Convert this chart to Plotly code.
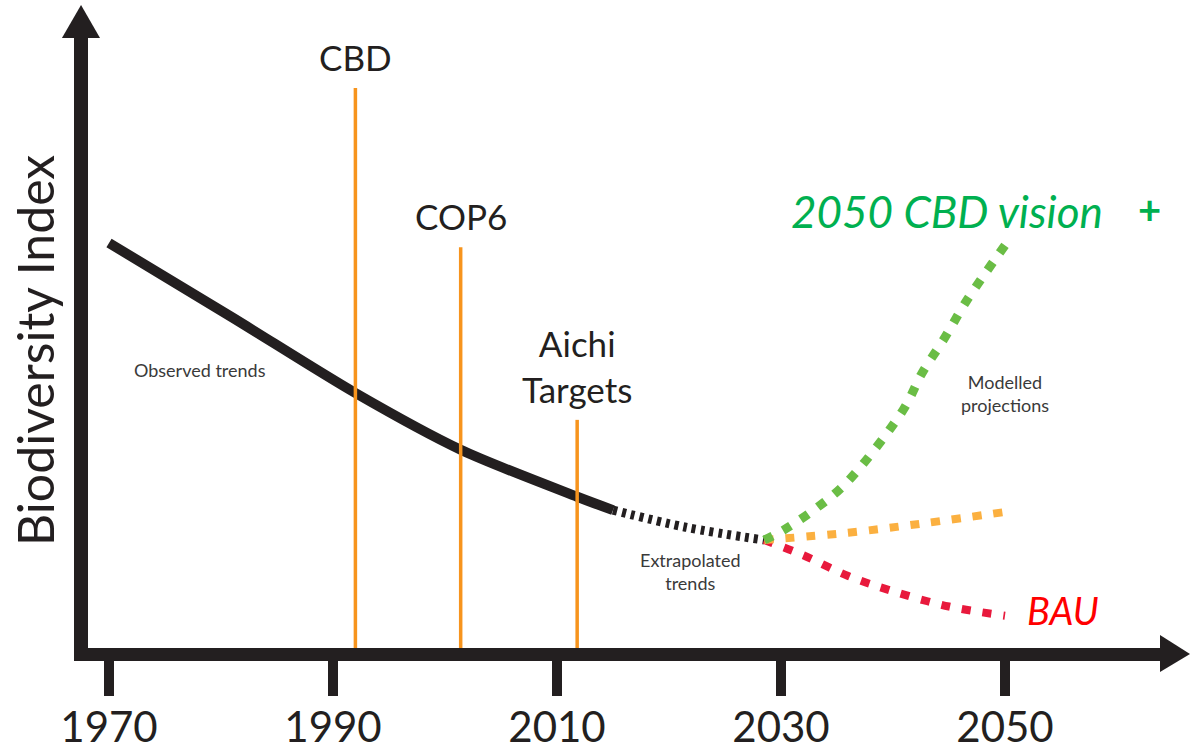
import plotly.graph_objects as go

# ---- data ----
observed_years = [1970, 1981, 1992, 2001.4, 2011.8, 2015]
observed_index = [66.4, 54.2, 41.8, 32.5, 24.8, 22.6]

extrap_years = [2015, 2021.5, 2028.5]
extrap_index = [22.6, 19.8, 17.7]

vision_years = [2028.5, 2030.2, 2033.2, 2035.9, 2040.9, 2042.6, 2044.5, 2046.6, 2050]
vision_index = [17.7, 19.3, 23.0, 27.2, 39.0, 45.1, 50.5, 57.0, 66.0]

mid_years = [2028.5, 2036, 2043, 2050]
mid_index = [17.7, 18.9, 20.5, 22.3]

bau_years = [2028.5, 2032, 2036, 2040, 2045, 2050]
bau_index = [17.7, 15.2, 11.8, 9.3, 6.8, 5.3]

event_names = ["CBD", "COP6", "Aichi<br>Targets"]
event_years = [1992, 2001.4, 2011.8]
event_heights = [91.8, 65.7, 37.4]

tick_years = [1970, 1990, 2010, 2030, 2050]
tick_labels = ["1970", "1990", "2010", "2030", "2050"]

DARK = "#231F20"
FONT = "Lato"

fig = go.Figure()

# observed trend
fig.add_trace(go.Scatter(x=observed_years, y=observed_index, mode="lines",
                         line=dict(color=DARK, width=10, shape="spline", smoothing=0.8),
                         hoverinfo="skip", showlegend=False))
# extrapolated
fig.add_trace(go.Scatter(x=extrap_years, y=extrap_index, mode="lines",
                         line=dict(color=DARK, width=9, dash="4px,5px", shape="spline"),
                         hoverinfo="skip", showlegend=False))
# projections
fig.add_trace(go.Scatter(x=bau_years, y=bau_index, mode="lines",
                         line=dict(color="#E8193C", width=8, dash="9px,12px", shape="spline"),
                         hoverinfo="skip", showlegend=False))
fig.add_trace(go.Scatter(x=mid_years, y=mid_index, mode="lines",
                         line=dict(color="#FBB040", width=8, dash="9px,12px", shape="spline"),
                         hoverinfo="skip", showlegend=False))
fig.add_trace(go.Scatter(x=vision_years, y=vision_index, mode="lines",
                         line=dict(color="#6ABD45", width=9, dash="9px,12px", shape="spline"),
                         hoverinfo="skip", showlegend=False))

# event lines
for name, yr, h in zip(event_names, event_years, event_heights):
    fig.add_trace(go.Scatter(x=[yr, yr], y=[0, h], mode="lines",
                             line=dict(color="#F7941D", width=3.5),
                             hoverinfo="skip", showlegend=False))
    fig.add_annotation(x=yr, y=h, yref="y", text=name, showarrow=False,
                       yanchor="bottom", yshift=8,
                       font=dict(family=FONT, size=35, color=DARK))

# text labels
fig.add_annotation(x=1978.1, y=45.6, text="Observed trends", showarrow=False,
                   font=dict(family=FONT, size=18, color="#3A3A3A"))
fig.add_annotation(x=2021.9, y=12.5, text="Extrapolated<br>trends", showarrow=False,
                   font=dict(family=FONT, size=18, color="#3A3A3A"))
fig.add_annotation(x=2050, y=41.8, text="Modelled<br>projections", showarrow=False,
                   font=dict(family=FONT, size=18, color="#3A3A3A"))
fig.add_annotation(x=2044.8, y=71.6, text="<i>2050 CBD vision</i>", showarrow=False,
                   font=dict(family=FONT, size=44, color="#00B050"))
fig.add_annotation(x=2062.9, y=71.9, text="<b>+</b>", showarrow=False,
                   font=dict(family=FONT, size=40, color="#00B050"))
fig.add_annotation(x=2055.2, y=6.2, text="<i>BAU</i>", showarrow=False,
                   font=dict(family=FONT, size=38, color="#FF0000"))

# y-axis title
fig.add_annotation(xref="paper", yref="paper", x=-0.0494, y=0.487,
                   xanchor="center", yanchor="middle",
                   text="Biodiversity Index", textangle=-90, showarrow=False,
                   font=dict(family=FONT, size=50, color=DARK))

# arrowheads
fig.add_shape(type="path", xref="paper", yref="paper",
              path="M 1.0,0.0213 L 1.028,-0.0098 L 1.0,-0.0393 Z",
              fillcolor=DARK, line=dict(width=0))
fig.add_shape(type="path", xref="paper", yref="paper",
              path="M -0.0243,1.0 L -0.0065,1.054 L 0.0112,1.0 Z",
              fillcolor=DARK, line=dict(width=0))

fig.update_layout(
    width=1190, height=751,
    margin=dict(l=88, r=30, t=38, b=103),
    paper_bgcolor="white", plot_bgcolor="white",
    xaxis=dict(range=[1968.125, 2063.84], showgrid=False, zeroline=False,
               automargin=False,
               showline=True, linewidth=13, linecolor=DARK,
               tickmode="array", tickvals=tick_years, ticktext=tick_labels,
               ticks="outside", ticklen=35, tickwidth=10, tickcolor=DARK,
               ticklabelstandoff=-4,
               tickfont=dict(family=FONT, size=42, color=DARK)),
    yaxis=dict(range=[0, 100], showgrid=False, zeroline=False,
               automargin=False,
               showline=True, linewidth=14, linecolor=DARK,
               showticklabels=False, ticks=""),
)

fig.write_html("out.html", config={"displayModeBar": False},
               post_script="document.body.style.margin='0';document.body.style.overflow='hidden';")
